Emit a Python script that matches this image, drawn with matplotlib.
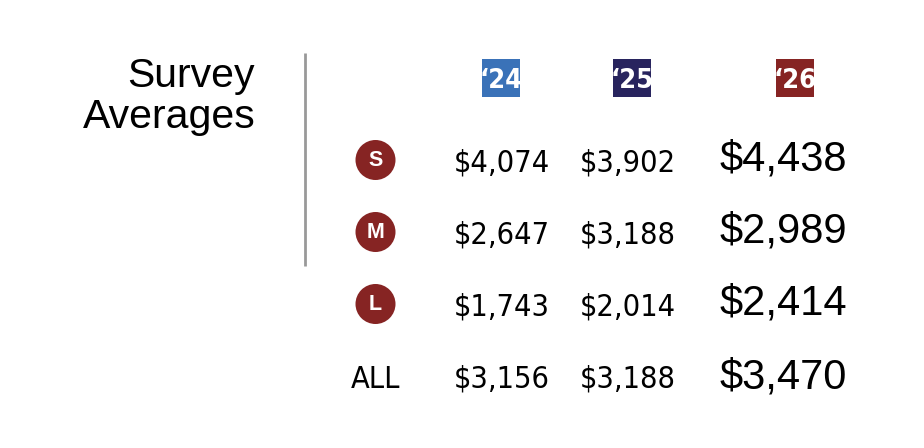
import matplotlib
matplotlib.use('Agg')
import matplotlib.pyplot as plt
from matplotlib import font_manager
from matplotlib.patches import Rectangle, Circle

# data
years = ['\u201824', '\u201825', '\u201826']
year_colors = ['#3A72B8', '#28245E', '#862423']
row_labels = ['S', 'M', 'L', 'ALL']
vals_24 = ['$4,074', '$2,647', '$1,743', '$3,156']
vals_25 = ['$3,902', '$3,188', '$2,014', '$3,188']
vals_26 = ['$4,438', '$2,989', '$2,414', '$3,470']

# pick a narrow face if one is installed
names = {f.name for f in font_manager.fontManager.ttflist}
if 'Liberation Sans Narrow' in names:
    narrow = dict(family='Liberation Sans Narrow')
else:
    narrow = dict(family='DejaVu Sans', stretch='condensed')
wide = dict(family='Liberation Sans')

W, H = 924, 448
fig = plt.figure(figsize=(W / 100, H / 100), dpi=100)
ax = fig.add_axes([0, 0, 1, 1])
ax.set_xlim(0, W)
ax.set_ylim(H, 0)
ax.axis('off')

# title block
ax.text(255, 87, 'Survey', ha='right', va='baseline', fontsize=29.5, **wide)
ax.text(256, 128, 'Averages', ha='right', va='baseline', fontsize=29.5, **wide)
ax.plot([305, 305], [53, 266], color='#999999', lw=2, solid_capstyle='butt')

# column headers
col_x = [501, 632, 795]
for cx, yr, c in zip(col_x, years, year_colors):
    ax.add_patch(Rectangle((cx - 19, 59), 38, 38, fc=c, ec='none'))
    ax.text(cx, 88.5, yr, ha='center', va='baseline', color='white',
            fontsize=19.5, fontweight='bold', **narrow)

# rows
base_y = [171, 243, 315, 388]
val_x = [502, 627.5]
for i, lab in enumerate(row_labels):
    by = base_y[i]
    if lab == 'ALL':
        ax.text(376, by, lab, ha='center', va='baseline', fontsize=22,
                **narrow)
    else:
        cy = by - 11
        ax.add_patch(Circle((375.5, cy), 20, fc='#862423', ec='none'))
        ax.text(375.5, cy + 1, lab, ha='center', va='center', color='white',
                fontsize=15.5, fontweight='bold', **wide)
    ax.text(val_x[0], by, vals_24[i], ha='center', va='baseline',
            fontsize=22, **narrow)
    ax.text(val_x[1], by, vals_25[i], ha='center', va='baseline',
            fontsize=22, **narrow)
    ax.text(783, by, vals_26[i], ha='center', va='baseline', fontsize=30,
            **wide)

fig.savefig('out.png', dpi=100, facecolor='white')
